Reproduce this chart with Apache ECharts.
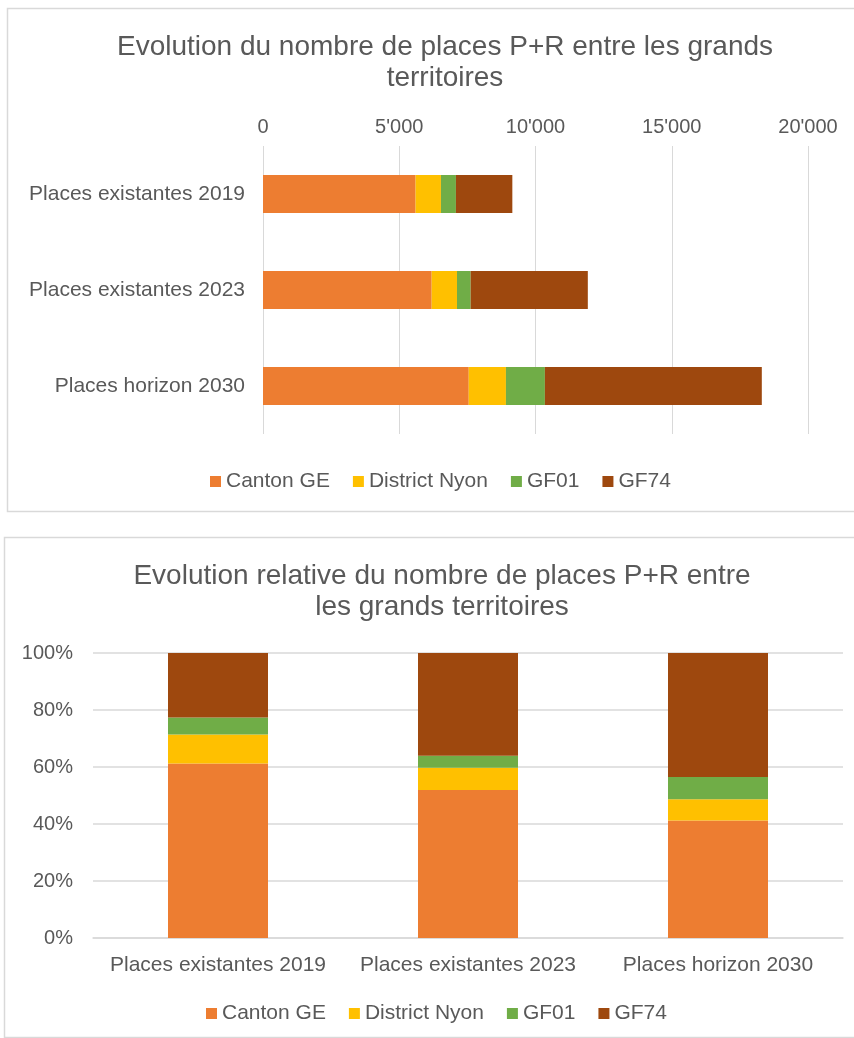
<!DOCTYPE html>
<html>
<head>
<meta charset="utf-8">
<script src="https://cdn.jsdelivr.net/npm/echarts@6/dist/echarts.min.js"></script>
<style>
html,body{margin:0;padding:0;background:#fff;overflow:hidden;}
#main{width:854px;height:1038px;}
</style>
</head>
<body>
<div id="main"></div>
<script>
// ---- Data ----
const categories = ['Places existantes 2019', 'Places existantes 2023', 'Places horizon 2030'];
const seriesNames = ['Canton GE', 'District Nyon', 'GF01', 'GF74'];
const cantonGE = [5600, 6190, 7550];
const districtNyon = [930, 930, 1365];
const gf01 = [550, 500, 1430];
const gf74 = [2070, 4300, 7960];
const countTicks = [0, 5000, 10000, 15000, 20000];
const percentTicks = [0, 20, 40, 60, 80, 100];
const colors = ['#ED7D31', '#FFC000', '#70AD47', '#9E480E'];

const title1 = 'Evolution du nombre de places P+R entre les grands\nterritoires';
const title2 = 'Evolution relative du nombre de places P+R entre\nles grands territoires';

// ---- Build ----
const rawSeries = [cantonGE, districtNyon, gf01, gf74];
const totals = categories.map((_, i) => rawSeries.reduce((s, arr) => s + arr[i], 0));
const shares = rawSeries.map(arr => arr.map((v, i) => v / totals[i] * 100));

const FONT = '"Liberation Sans", Arial, sans-serif';
const TXT = '#595959';
const GRID = '#D9D9D9';

function fmtThousands(v) {
  return String(v).replace(/\B(?=(\d{3})+(?!\d))/g, "'");
}

const series = [];
seriesNames.forEach((name, k) => {
  series.push({
    name: name, type: 'bar', stack: 'abs', xAxisIndex: 0, yAxisIndex: 0,
    data: rawSeries[k], barWidth: 38, itemStyle: { color: colors[k] },
    emphasis: { disabled: true }
  });
});
seriesNames.forEach((name, k) => {
  series.push({
    name: name, type: 'bar', stack: 'rel', xAxisIndex: 1, yAxisIndex: 1,
    data: shares[k], barWidth: 100, itemStyle: { color: colors[k] },
    emphasis: { disabled: true }
  });
});

const chart = echarts.init(document.getElementById('main'), null, { renderer: 'canvas' });
chart.setOption({
  animation: false,
  backgroundColor: '#fff',
  textStyle: { fontFamily: FONT },
  color: colors,
  title: [
    { text: title1, left: 440, top: 27, textAlign: 'center',
      textStyle: { fontFamily: FONT, fontSize: 28, fontWeight: 'normal', color: TXT, lineHeight: 31 } },
    { text: title2, left: 437, top: 556, textAlign: 'center',
      textStyle: { fontFamily: FONT, fontSize: 28, fontWeight: 'normal', color: TXT, lineHeight: 31 } }
  ],
  legend: [
    { data: seriesNames, left: 205, top: 466, icon: 'rect', itemWidth: 11, itemHeight: 11, itemGap: 23,
      textStyle: { fontFamily: FONT, fontSize: 21, color: TXT }, selectedMode: false },
    { data: seriesNames, left: 201, top: 998, icon: 'rect', itemWidth: 11, itemHeight: 11, itemGap: 23,
      textStyle: { fontFamily: FONT, fontSize: 21, color: TXT }, selectedMode: false }
  ],
  grid: [
    { left: 263, right: 46, top: 146, height: 288, containLabel: false },
    { left: 93, right: 11, top: 653, height: 285, containLabel: false }
  ],
  xAxis: [
    { type: 'value', gridIndex: 0, position: 'top', min: countTicks[0], max: countTicks[countTicks.length - 1],
      interval: countTicks[1] - countTicks[0],
      axisLine: { show: false }, axisTick: { show: false },
      splitLine: { show: true, lineStyle: { color: GRID, width: 1 } },
      axisLabel: { margin: 9, fontFamily: FONT, fontSize: 20, color: TXT, formatter: fmtThousands } },
    { type: 'category', gridIndex: 1, data: categories,
      axisLine: { show: true, lineStyle: { color: GRID, width: 1.5 } }, axisTick: { show: false },
      axisLabel: { margin: 17, fontFamily: FONT, fontSize: 21, color: TXT, interval: 0 } }
  ],
  yAxis: [
    { type: 'category', gridIndex: 0, data: categories, inverse: true,
      axisLine: { show: false }, axisTick: { show: false },
      axisLabel: { margin: 18, fontFamily: FONT, fontSize: 21, color: TXT } },
    { type: 'value', gridIndex: 1, min: percentTicks[0], max: percentTicks[percentTicks.length - 1],
      interval: percentTicks[1] - percentTicks[0],
      axisLine: { show: false }, axisTick: { show: false },
      splitLine: { show: true, lineStyle: { color: GRID, width: 1.5 } },
      axisLabel: { margin: 20, fontFamily: FONT, fontSize: 20, color: TXT, formatter: v => v + '%' } }
  ],
  graphic: [
    { type: 'rect', shape: { x: 7.5, y: 8.5, width: 900, height: 503 },
      style: { fill: null, stroke: GRID, lineWidth: 1.5 }, z: -1, silent: true },
    { type: 'rect', shape: { x: 4.5, y: 537.5, width: 900, height: 500 },
      style: { fill: null, stroke: GRID, lineWidth: 1.5 }, z: -1, silent: true }
  ],
  series: series
});
</script>
</body>
</html>
